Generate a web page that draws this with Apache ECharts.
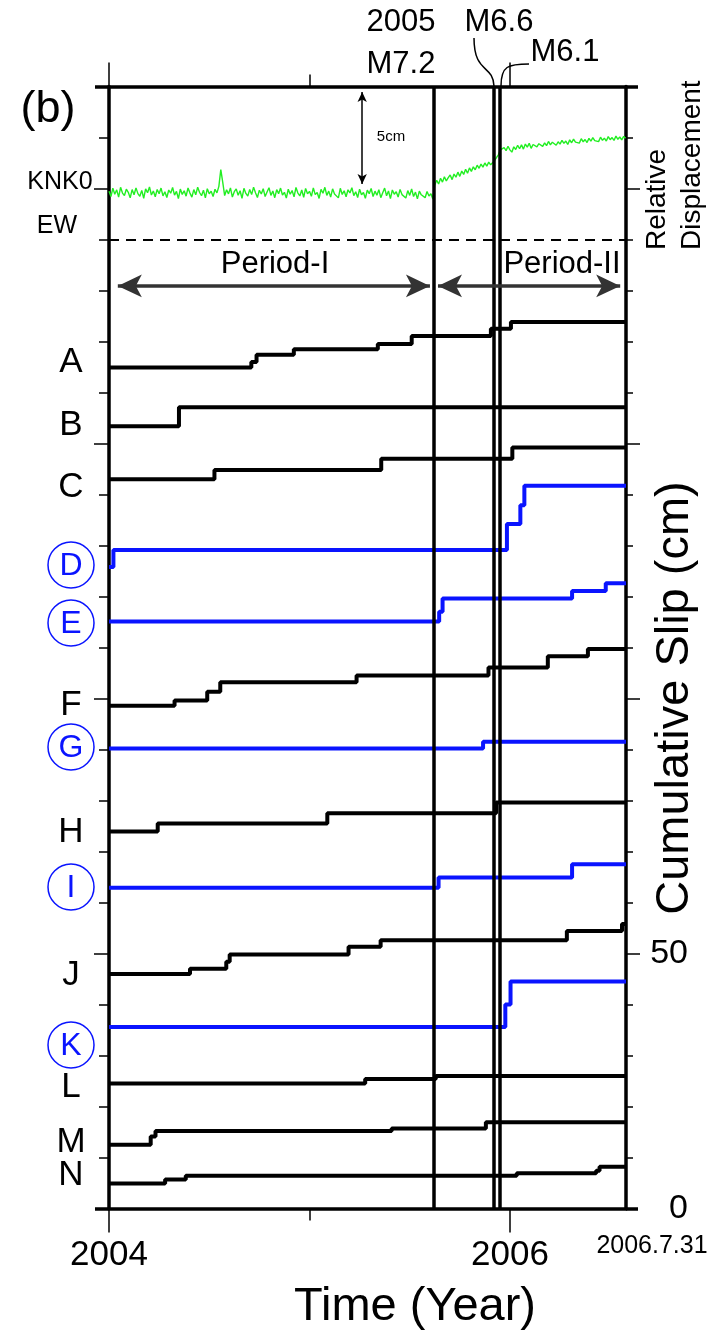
<!DOCTYPE html>
<html>
<head>
<meta charset="utf-8">
<script src="https://cdn.jsdelivr.net/npm/echarts@6/dist/echarts.min.js"></script>
<style>
  html, body { margin: 0; background: #fff; }
  #c { width: 721px; height: 1335px; }
</style>
</head>
<body>
<div id="c"></div>
<script>
// time axis (decimal year) and event times
const T_START = 2004, T_END = 2006.579;
const QUAKES = [2005.622, 2005.917, 2005.953];   // M7.2, M6.6, M6.1

// cumulative slip (cm) step curves: [time, slip after the step]
const ST_A = [[2004, 164.9], [2004.710, 166.0], [2004.736, 167.4], [2004.922, 168.5], [2005.341, 169.5], [2005.510, 171.1], [2005.905, 172.5], [2006.005, 173.8], [2006.579, 173.8]];
const ST_B = [[2004, 153.4], [2004.349, 157.1], [2006.579, 157.1]];
const ST_C = [[2004, 143.0], [2004.526, 144.8], [2005.358, 147.0], [2006.012, 149.2], [2006.579, 149.2]];
const ST_D = [[2004, 125.8], [2004.022, 129.1], [2005.985, 134.2], [2006.052, 137.9], [2006.072, 141.7], [2006.579, 141.7]];
const ST_E = [[2004, 115.1], [2005.647, 117.0], [2005.664, 119.6], [2006.310, 121.1], [2006.478, 122.6], [2006.579, 122.6]];
const ST_F = [[2004, 98.6], [2004.327, 99.6], [2004.490, 101.3], [2004.555, 103.2], [2005.235, 104.5], [2005.893, 106.1], [2006.189, 108.3], [2006.389, 109.7], [2006.579, 109.7]];
const ST_G = [[2004, 90.2], [2005.866, 91.5], [2006.579, 91.5]];
const ST_H = [[2004, 73.9], [2004.243, 75.5], [2005.089, 77.5], [2005.931, 79.6], [2006.579, 79.6]];
const ST_I = [[2004, 62.9], [2005.644, 64.9], [2006.310, 67.5], [2006.579, 67.5]];
const ST_J = [[2004, 46.0], [2004.404, 47.0], [2004.585, 48.4], [2004.602, 49.8], [2005.195, 51.3], [2005.355, 52.6], [2006.284, 54.4], [2006.559, 55.8], [2006.579, 55.8]];
const ST_K = [[2004, 35.6], [2005.977, 40.0], [2006.003, 44.5], [2006.579, 44.5]];
const ST_L = [[2004, 24.5], [2005.278, 25.4], [2005.630, 26.0], [2006.579, 26.0]];
const ST_M = [[2004, 12.5], [2004.208, 14.1], [2004.232, 15.2], [2005.410, 15.7], [2005.880, 16.9], [2006.579, 16.9]];
const ST_N = [[2004, 4.9], [2004.280, 5.7], [2004.383, 6.4], [2006.034, 6.9], [2006.430, 7.4], [2006.447, 8.2], [2006.579, 8.2]];

const STATION_NAMES = ['A', 'B', 'C', 'D', 'E', 'F', 'G', 'H', 'I', 'J', 'K', 'L', 'M', 'N'];
const STATION_DATA = [ST_A, ST_B, ST_C, ST_D, ST_E, ST_F, ST_G, ST_H, ST_I, ST_J, ST_K, ST_L, ST_M, ST_N];
const CIRCLED = ['D', 'E', 'G', 'I', 'K'];

// KNK0 EW relative displacement (cm), samples every 1/104 yr from 2004.0
const GPS_T0 = 2004, GPS_DT = 1 / 104;
const GPS_EW = [
  -0.28, -0.55, -0.12, -0.43, -0.20, -0.58, -0.07, -0.37, -0.50, -0.17,
  -0.33, -0.62, -0.19, -0.46, -0.10, -0.40, -0.54, -0.23, -0.64, -0.15,
  -0.35, -0.05, -0.47, -0.26, -0.56, -0.18, -0.41, -0.11, -0.52, -0.30,
  -0.60, -0.21, -0.38, -0.08, -0.48, -0.28, -0.66, -0.16, -0.44, -0.25,
  -0.53, -0.10, -0.37, -0.58, -0.19, -0.46, -0.06, -0.34, -0.51, -0.22,
  -0.62, -0.14, -0.41, -0.27, -0.55, -0.17, -0.36, -0.02,
  0.85, 0.20,
  -0.50, -0.20, -0.41, -0.10, -0.58, -0.30, -0.15, -0.48, -0.25, -0.64,
  -0.12, -0.39, -0.53, -0.18, -0.45, -0.06, -0.35, -0.60, -0.22, -0.42,
  -0.14, -0.55, -0.31, -0.09, -0.49, -0.26, -0.61, -0.19, -0.40, -0.11,
  -0.47, -0.33, -0.63, -0.17, -0.43, -0.24, -0.57, -0.08, -0.37, -0.52,
  -0.21, -0.59, -0.13, -0.41, -0.28, -0.54, -0.10, -0.45, -0.34, -0.65,
  -0.18, -0.38, -0.07, -0.49, -0.27, -0.58, -0.15, -0.42, -0.32, -0.62,
  -0.12, -0.44, -0.25, -0.56, -0.20, -0.36, -0.09, -0.50, -0.30, -0.60,
  -0.17, -0.46, -0.34, -0.64, -0.22, -0.40, -0.13, -0.55, -0.27, -0.48,
  -0.19, -0.61, -0.35, -0.11, -0.51, -0.26, -0.66, -0.21, -0.43, -0.30,
  -0.58, -0.18, -0.45, -0.36, -0.63, -0.24, -0.49, -0.16, -0.55, -0.32,
  -0.67, -0.27, -0.46, -0.37, -0.61, -0.29, -0.52, -0.41, -0.68,
  0.05,
  0.30, 0.10, 0.40, 0.20, 0.48, 0.26, 0.43, 0.57, 0.33, 0.62,
  0.46, 0.72, 0.50, 0.78, 0.60, 0.87, 0.66, 0.94, 0.76, 1.00,
  0.84, 1.08, 0.92, 1.14, 0.98, 1.20, 1.03, 1.24, 1.10, 1.20,
  1.32, 1.48, 1.62, 1.88,
  1.78, 2.00, 1.84, 2.07, 1.88, 1.76, 2.04, 1.90, 2.12, 1.94,
  2.14, 1.92, 2.18, 2.02, 2.22, 1.96, 2.16, 2.26, 2.04, 2.20,
  2.30, 2.06, 2.24, 2.10, 2.32, 2.14, 2.28, 2.36, 2.12, 2.30,
  2.18, 2.38, 2.22, 2.34, 2.16, 2.40, 2.25, 2.44, 2.28, 2.38,
  2.23, 2.46, 2.30, 2.42, 2.26, 2.48, 2.33, 2.52, 2.36, 2.46,
  2.31, 2.54, 2.38, 2.49, 2.34, 2.57, 2.41, 2.52, 2.37, 2.60,
  2.43, 2.55, 2.40, 2.58, 2.48
];

const FONT = '"Liberation Sans", Arial, sans-serif';
const BLACK = '#000', BLUE = '#0a14ff', GREEN = '#22ee22', GREY = '#333';

const chart = echarts.init(document.getElementById('c'));

const xBase = { type: 'value', min: T_START, max: T_END, splitLine: { show: false }, axisLabel: { show: false } };
const yBase = { type: 'value', min: 0, max: 220, interval: 10, splitLine: { show: false }, axisLabel: { show: false } };
const frame = { show: true, onZero: false, lineStyle: { color: BLACK, width: 3.5 } };
const noLine = { show: false, onZero: false };
const tick = (length, values, width) => ({ show: true, length, customValues: values, lineStyle: { color: BLACK, width: width || 1.5 } });

const stationSeries = STATION_DATA.map((d, i) => ({
  name: STATION_NAMES[i], type: 'line', step: 'end', data: d,
  showSymbol: false, symbol: 'none', silent: true, z: 3,
  xAxisIndex: 0, yAxisIndex: 0,
  lineStyle: { color: CIRCLED.includes(STATION_NAMES[i]) ? BLUE : BLACK, width: 4 },
}));

const hidden = { symbol: 'none', label: { show: false }, silent: true, animation: false };

chart.setOption({
  animation: false,
  grid: { left: 109, right: 95, top: 86.5, bottom: 126.5, outerBoundsMode: 'none' },
  xAxis: [
    { ...xBase, position: 'bottom', axisLine: frame, axisTick: tick(24, [2004, 2006]),
      axisLabel: { show: true, customValues: [2004, 2006], formatter: v => String(v), fontSize: 35, margin: 29, color: BLACK, fontFamily: FONT } },
    { ...xBase, position: 'bottom', axisLine: noLine, axisTick: tick(12, [2005]) },
    { ...xBase, position: 'top', axisLine: frame, axisTick: tick(24, [2004, 2006]) },
    { ...xBase, position: 'top', axisLine: noLine, axisTick: tick(12, [2005]) },
  ],
  yAxis: [
    { ...yBase, position: 'left', axisLine: frame, axisTick: { show: true, length: 10, lineStyle: { color: BLACK, width: 1.5 } } },
    { ...yBase, position: 'left', axisLine: noLine, axisTick: tick(15, [50, 100, 150, 200]) },
    { ...yBase, position: 'left', axisLine: noLine, axisTick: tick(14, [0, 220], 3.5) },
    { ...yBase, position: 'right', axisLine: frame, axisTick: { show: true, length: 7, lineStyle: { color: BLACK, width: 1.5 } },
      axisLabel: { show: true, customValues: [0, 50], fontSize: 34, margin: 62, align: 'right', color: BLACK, fontFamily: FONT } },
    { ...yBase, position: 'right', axisLine: noLine, axisTick: tick(14, [50, 100, 150, 200]) },
    { ...yBase, position: 'right', axisLine: noLine, axisTick: tick(12, [0, 220], 3.5) },
    { type: 'value', min: -53.25, max: 5.18, show: false },
  ],
  series: [
    ...stationSeries,
    {
      name: 'KNK0 EW', type: 'line', xAxisIndex: 0, yAxisIndex: 6, showSymbol: false, symbol: 'none', silent: true, z: 2,
      data: GPS_EW.map((v, i) => [GPS_T0 + i * GPS_DT, v]),
      lineStyle: { color: GREEN, width: 1.4 },
      markLine: { ...hidden, symbol: ['arrow', 'arrow'], symbolSize: [7, 10],
        lineStyle: { color: BLACK, width: 1.5, type: 'solid' },
        data: [[{ coord: [2005.263, 0.1] }, { coord: [2005.263, 4.9] }]] },
    },
    {
      type: 'line', data: [], xAxisIndex: 0, yAxisIndex: 0, z: 5,
      markLine: { ...hidden, lineStyle: { color: BLACK, width: 3.5, type: 'solid' },
        data: QUAKES.map(t => ({ xAxis: t })) },
    },
    {
      type: 'line', data: [], xAxisIndex: 0, yAxisIndex: 0, z: 4,
      markLine: { ...hidden, lineStyle: { color: BLACK, width: 1.8, type: [10, 7] },
        data: [{ yAxis: 190 }] },
    },
    {
      type: 'line', data: [], xAxisIndex: 0, yAxisIndex: 0, z: 4,
      markLine: { ...hidden, symbol: ['arrow', 'arrow'], symbolSize: [17, 24],
        lineStyle: { color: GREY, width: 3.5, type: 'solid' },
        data: [
          [{ coord: [2004.044, 180.9] }, { coord: [2005.601, 180.9] }],
          [{ coord: [2005.641, 180.9] }, { coord: [2006.550, 180.9] }],
        ] },
    },
  ],
});

// annotations
const txt = (text, x, y, size, extra) => ({
  type: 'text', x, y, silent: true, z: 10,
  style: { text, fontSize: size, fontFamily: FONT, fill: BLACK, align: 'center', verticalAlign: 'middle', ...(extra || {}) },
});

const LABEL_Y = [362, 425, 487, 565, 623, 705, 747, 832, 887, 975, 1045, 1087, 1142, 1175];
const graphics = [];
STATION_NAMES.forEach((n, i) => {
  const blue = CIRCLED.includes(n);
  if (blue) {
    graphics.push({ type: 'circle', shape: { cx: 71, cy: LABEL_Y[i], r: 23 }, silent: true, z: 10,
      style: { fill: null, stroke: BLUE, lineWidth: 1.5 } });
    graphics.push(txt(n, 71, LABEL_Y[i] + 1, 32, { fill: BLUE }));
  } else {
    graphics.push(txt(n, 71, LABEL_Y[i], 35));
  }
});

graphics.push(
  txt('(b)', 48, 110, 45),
  txt('KNK0', 60, 182, 25),
  txt('EW', 57, 226, 25),
  txt('5cm', 391, 137, 15),
  txt('2005', 401, 22, 31),
  txt('M7.2', 401, 64, 31),
  txt('M6.6', 499, 22, 31),
  txt('M6.1', 565, 52, 31),
  txt('Period-I', 275, 264, 31),
  txt('Period-II', 562, 264, 31),
  txt('2006.7.31', 652, 1246, 25),
  txt('Time (Year)', 415, 1307, 47),
  { ...txt('Relative', 657, 250, 28, { align: 'left' }), rotation: Math.PI / 2 },
  { ...txt('Displacement', 692, 250, 28, { align: 'left' }), rotation: Math.PI / 2 },
  { ...txt('Cumulative Slip (cm)', 675, 698, 47), rotation: Math.PI / 2 },
  { type: 'bezierCurve', silent: true, z: 10,
    shape: { x1: 474, y1: 38, cpx1: 474, cpy1: 74, cpx2: 493, cpy2: 64, x2: 494, y2: 86 },
    style: { stroke: BLACK, lineWidth: 1.5, fill: null } },
  { type: 'bezierCurve', silent: true, z: 10,
    shape: { x1: 529, y1: 64, cpx1: 508, cpy1: 64, cpx2: 501, cpy2: 66, x2: 501, y2: 86 },
    style: { stroke: BLACK, lineWidth: 1.5, fill: null } }
);

chart.setOption({ graphic: graphics });
</script>
</body>
</html>
